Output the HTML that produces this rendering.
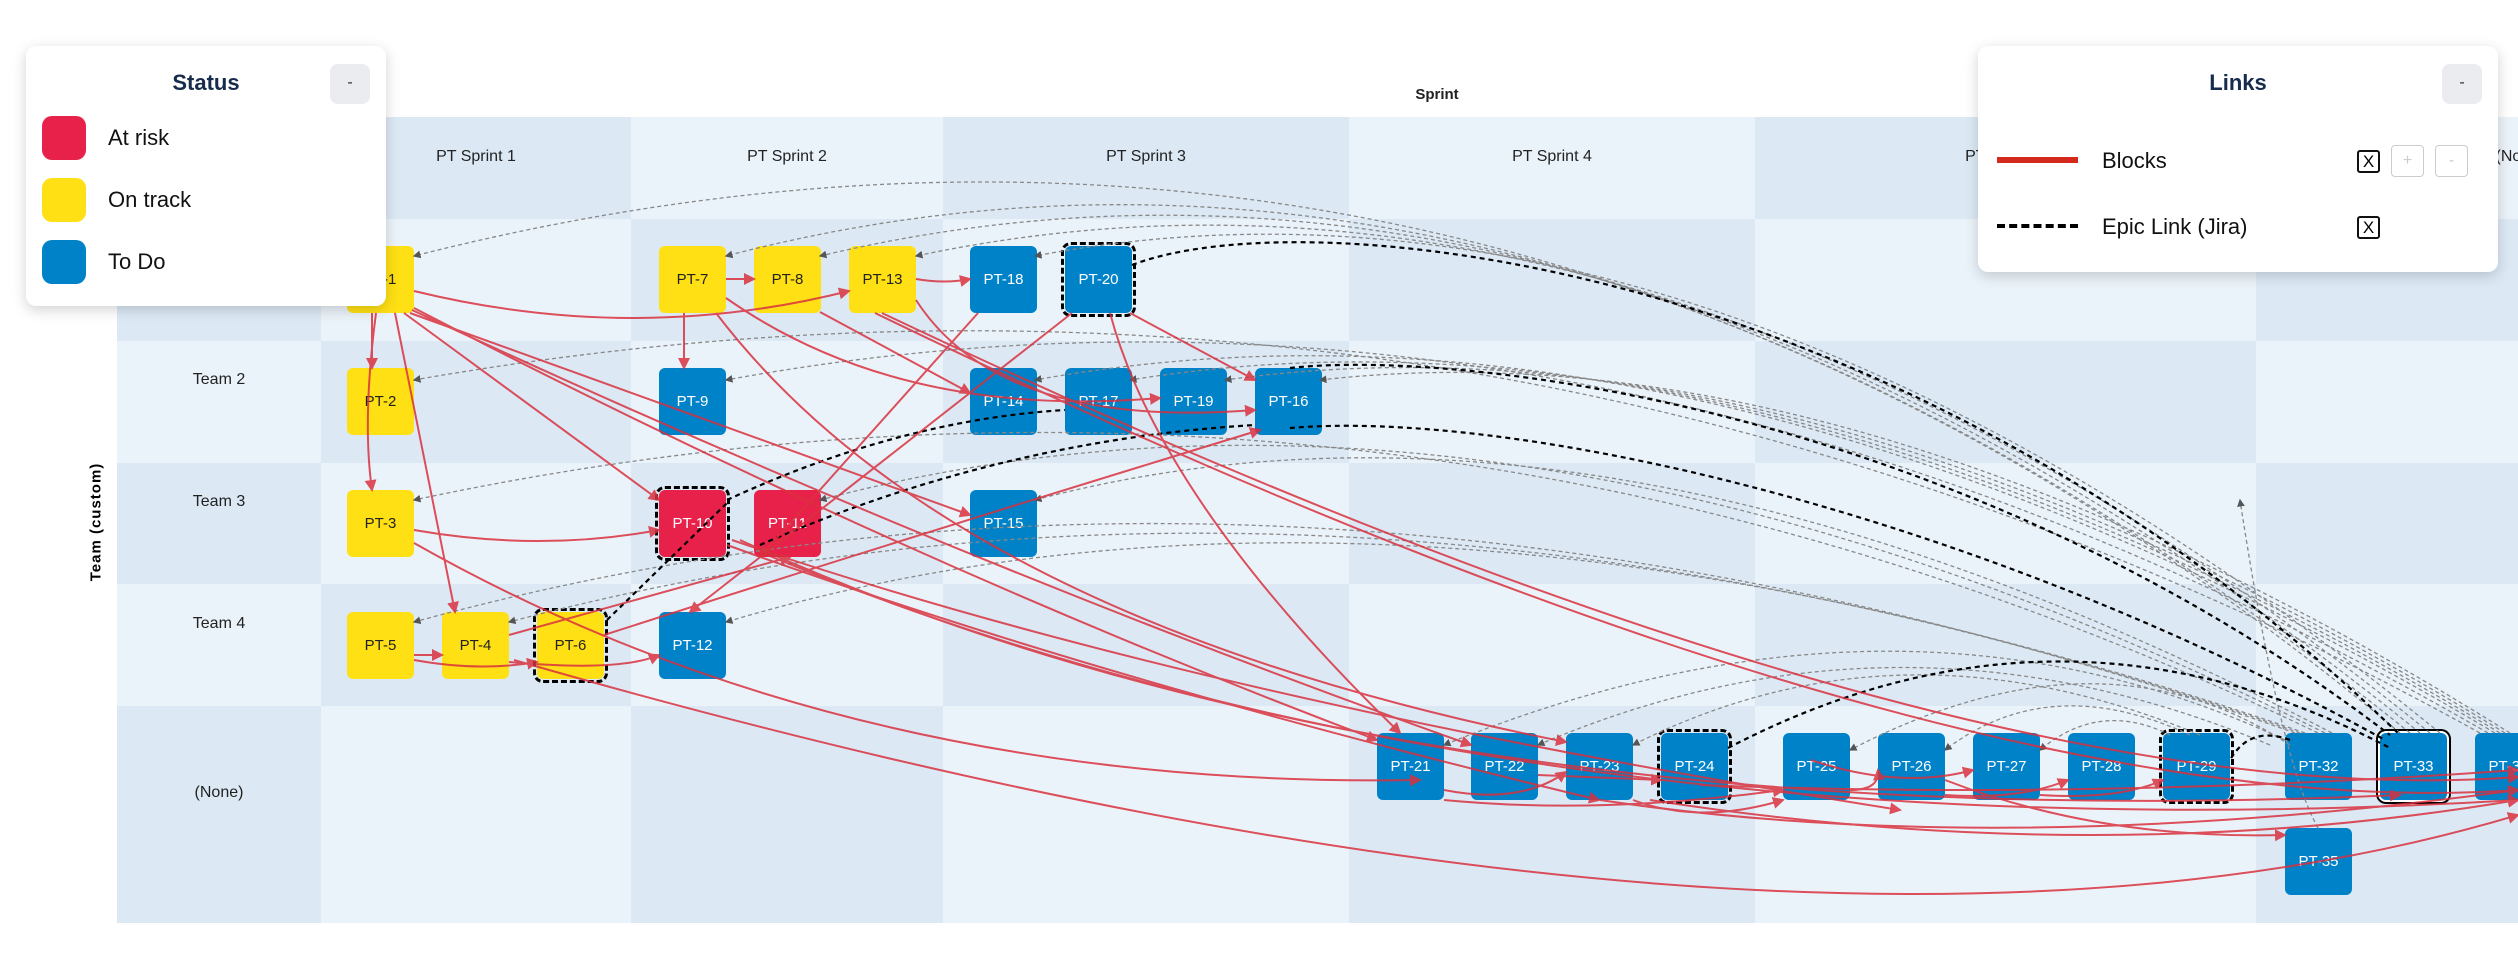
<!DOCTYPE html>
<html><head><meta charset="utf-8"><style>
body{margin:0;width:2518px;height:960px;overflow:hidden;background:#fff;font-family:"Liberation Sans",sans-serif;position:relative}
.c{position:absolute}
.d{background:#dce9f5}.l{background:#ebf3fa}
.hl{position:absolute;font-size:16px;color:#222;text-align:center;transform:translateX(-50%);white-space:nowrap}
.n{position:absolute;width:67px;height:67px;border-radius:6px;display:flex;align-items:center;justify-content:center;font-size:15px;color:#fff}
.y{background:#ffe014;color:#222}.b{background:#0082c8}.r{background:#e8214a}
.dash{outline:3px dashed #000;outline-offset:1px}
.leg{position:absolute;background:#fff;border-radius:10px;box-shadow:0 4px 14px rgba(0,0,0,.18)}
.btn{position:absolute;background:#ebecf0;border-radius:8px;text-align:center;font-size:16px;color:#333}
.sw{position:absolute;left:16px;width:44px;height:44px;border-radius:10px}
.lt{position:absolute;font-size:22px;color:#111}
.cb{position:absolute;width:19px;height:19px;border:2px solid #111;border-radius:3px;font-size:17px;line-height:19px;text-align:center}
</style></head><body>
<!-- grid -->
<div class="c l" style="left:117px;top:117px;width:204px;height:102px"></div>
<div class="c d" style="left:321px;top:117px;width:310px;height:102px"></div>
<div class="c l" style="left:631px;top:117px;width:312px;height:102px"></div>
<div class="c d" style="left:943px;top:117px;width:406px;height:102px"></div>
<div class="c l" style="left:1349px;top:117px;width:406px;height:102px"></div>
<div class="c d" style="left:1755px;top:117px;width:501px;height:102px"></div>
<div class="c l" style="left:2256px;top:117px;width:262px;height:102px"></div>

<div class="c d" style="left:117px;top:219px;width:204px;height:122px"></div>
<div class="c l" style="left:321px;top:219px;width:310px;height:122px"></div>
<div class="c d" style="left:631px;top:219px;width:312px;height:122px"></div>
<div class="c l" style="left:943px;top:219px;width:406px;height:122px"></div>
<div class="c d" style="left:1349px;top:219px;width:406px;height:122px"></div>
<div class="c l" style="left:1755px;top:219px;width:501px;height:122px"></div>
<div class="c d" style="left:2256px;top:219px;width:262px;height:122px"></div>

<div class="c l" style="left:117px;top:341px;width:204px;height:122px"></div>
<div class="c d" style="left:321px;top:341px;width:310px;height:122px"></div>
<div class="c l" style="left:631px;top:341px;width:312px;height:122px"></div>
<div class="c d" style="left:943px;top:341px;width:406px;height:122px"></div>
<div class="c l" style="left:1349px;top:341px;width:406px;height:122px"></div>
<div class="c d" style="left:1755px;top:341px;width:501px;height:122px"></div>
<div class="c l" style="left:2256px;top:341px;width:262px;height:122px"></div>

<div class="c d" style="left:117px;top:463px;width:204px;height:121px"></div>
<div class="c l" style="left:321px;top:463px;width:310px;height:121px"></div>
<div class="c d" style="left:631px;top:463px;width:312px;height:121px"></div>
<div class="c l" style="left:943px;top:463px;width:406px;height:121px"></div>
<div class="c d" style="left:1349px;top:463px;width:406px;height:121px"></div>
<div class="c l" style="left:1755px;top:463px;width:501px;height:121px"></div>
<div class="c d" style="left:2256px;top:463px;width:262px;height:121px"></div>

<div class="c l" style="left:117px;top:584px;width:204px;height:122px"></div>
<div class="c d" style="left:321px;top:584px;width:310px;height:122px"></div>
<div class="c l" style="left:631px;top:584px;width:312px;height:122px"></div>
<div class="c d" style="left:943px;top:584px;width:406px;height:122px"></div>
<div class="c l" style="left:1349px;top:584px;width:406px;height:122px"></div>
<div class="c d" style="left:1755px;top:584px;width:501px;height:122px"></div>
<div class="c l" style="left:2256px;top:584px;width:262px;height:122px"></div>

<div class="c d" style="left:117px;top:706px;width:204px;height:217px"></div>
<div class="c l" style="left:321px;top:706px;width:310px;height:217px"></div>
<div class="c d" style="left:631px;top:706px;width:312px;height:217px"></div>
<div class="c l" style="left:943px;top:706px;width:406px;height:217px"></div>
<div class="c d" style="left:1349px;top:706px;width:406px;height:217px"></div>
<div class="c l" style="left:1755px;top:706px;width:501px;height:217px"></div>
<div class="c d" style="left:2256px;top:706px;width:262px;height:217px"></div>

<div class="hl" style="left:1437px;top:86px;font-size:15px;font-weight:bold">Sprint</div>
<div class="hl" style="left:476px;top:148px">PT Sprint 1</div>
<div class="hl" style="left:787px;top:148px">PT Sprint 2</div>
<div class="hl" style="left:1146px;top:148px">PT Sprint 3</div>
<div class="hl" style="left:1552px;top:148px">PT Sprint 4</div>
<div class="hl" style="left:2005px;top:148px">PT Sprint 5</div>
<div class="hl" style="left:2520px;top:148px">(None)</div>
<div class="hl" style="left:219px;top:250px">Team 1</div>
<div class="hl" style="left:219px;top:371px">Team 2</div>
<div class="hl" style="left:219px;top:493px">Team 3</div>
<div class="hl" style="left:219px;top:615px">Team 4</div>
<div class="hl" style="left:219px;top:784px">(None)</div>
<div style="position:absolute;left:96px;top:522px;transform:translate(-50%,-50%) rotate(-90deg);font-size:15px;font-weight:bold;white-space:nowrap;letter-spacing:1px">Team (custom)</div>

<!-- nodes -->
<div class="n y" style="left:347px;top:246px">PT-1</div>
<div class="n y" style="left:659px;top:246px">PT-7</div>
<div class="n y" style="left:754px;top:246px">PT-8</div>
<div class="n y" style="left:849px;top:246px">PT-13</div>
<div class="n b" style="left:970px;top:246px">PT-18</div>
<div class="n b dash" style="left:1065px;top:246px">PT-20</div>
<div class="n y" style="left:347px;top:368px">PT-2</div>
<div class="n b" style="left:659px;top:368px">PT-9</div>
<div class="n b" style="left:970px;top:368px">PT-14</div>
<div class="n b" style="left:1065px;top:368px">PT-17</div>
<div class="n b" style="left:1160px;top:368px">PT-19</div>
<div class="n b" style="left:1255px;top:368px">PT-16</div>
<div class="n y" style="left:347px;top:490px">PT-3</div>
<div class="n r dash" style="left:659px;top:490px">PT-10</div>
<div class="n r" style="left:754px;top:490px">PT-11</div>
<div class="n b" style="left:970px;top:490px">PT-15</div>
<div class="n y" style="left:347px;top:612px">PT-5</div>
<div class="n y" style="left:442px;top:612px">PT-4</div>
<div class="n y dash" style="left:537px;top:612px">PT-6</div>
<div class="n b" style="left:659px;top:612px">PT-12</div>
<div class="n b" style="left:1377px;top:733px">PT-21</div>
<div class="n b" style="left:1471px;top:733px">PT-22</div>
<div class="n b" style="left:1566px;top:733px">PT-23</div>
<div class="n b dash" style="left:1661px;top:733px">PT-24</div>
<div class="n b" style="left:1783px;top:733px">PT-25</div>
<div class="n b" style="left:1878px;top:733px">PT-26</div>
<div class="n b" style="left:1973px;top:733px">PT-27</div>
<div class="n b" style="left:2068px;top:733px">PT-28</div>
<div class="n b dash" style="left:2163px;top:733px">PT-29</div>
<div class="n b" style="left:2285px;top:733px">PT-32</div>
<div class="n b" style="left:2380px;top:733px;box-shadow:0 0 0 2px #fff,0 0 0 4px #000">PT-33</div>
<div class="n b" style="left:2475px;top:733px">PT-34</div>
<div class="n b" style="left:2285px;top:828px">PT-35</div>

<svg width="2518" height="960" style="position:absolute;left:0;top:0">
<defs><marker id="ar" markerWidth="6" markerHeight="6" refX="5" refY="3" orient="auto"><path d="M0,0L6,3L0,6z" fill="#d9323f"/></marker>
<marker id="ag" markerWidth="6" markerHeight="6" refX="5" refY="3" orient="auto"><path d="M0,0L6,3L0,6z" fill="#555"/></marker></defs>
<g fill="none" stroke="#888" stroke-width="1.3" stroke-dasharray="4 3" marker-end="url(#ag)">
<path d="M2400,733 Q1500,-20 414,256"/>
<path d="M2410,733 Q1550,40 726,256"/>
<path d="M2420,733 Q1600,70 820,256"/>
<path d="M2430,733 Q1650,100 916,256"/>
<path d="M2440,733 Q1700,130 1035,256"/>
<path d="M2480,733 Q1500,190 414,380"/>
<path d="M2488,733 Q1600,220 726,380"/>
<path d="M2495,733 Q1700,260 1035,380"/>
<path d="M2500,733 Q1750,280 1130,380"/>
<path d="M2505,733 Q1800,300 1225,380"/>
<path d="M2510,733 Q1850,320 1320,380"/>
<path d="M2318,733 Q1400,290 414,500"/>
<path d="M2325,733 Q1500,320 820,500"/>
<path d="M2332,733 Q1600,350 1035,500"/>
<path d="M2295,733 Q1300,380 414,622"/>
<path d="M2300,733 Q1350,400 509,622"/>
<path d="M2305,733 Q1400,420 726,622"/>
<path d="M2285,740 Q1900,560 1444,745"/>
<path d="M2270,745 Q1900,590 1538,745"/>
<path d="M2200,735 Q1900,610 1633,745"/>
<path d="M2290,745 Q2100,620 1850,750"/>
<path d="M2190,735 Q2050,670 1945,750"/>
<path d="M2170,735 Q2100,700 2040,750"/>
<path d="M2318,828 Q2280,760 2240,500"/>
</g>
<g fill="none" stroke="#000" stroke-width="2.2" stroke-dasharray="5 4">
<path d="M1132,265 C1300,200 1900,250 2400,735"/>
<path d="M1290,368 C1450,350 1950,400 2390,735"/>
<path d="M1290,428 C1500,410 1950,500 2385,740"/>
<path d="M607,620 L727,503"/>
<path d="M727,500 Q900,420 1065,410"/>
<path d="M760,545 Q1000,440 1255,425"/>
<path d="M1728,748 Q2060,575 2390,748"/>
<path d="M2290,740 Q2250,725 2230,760"/>
</g>
<g fill="none" stroke="#d9323f" stroke-width="2" opacity=".85" marker-end="url(#ar)">
<path d="M414,291 Q635,345 849,291"/>
<path d="M372,313 L372,368"/>
<path d="M376,313 Q362,420 372,490"/>
<path d="M395,313 L455,612"/>
<path d="M404,313 L659,500"/>
<path d="M410,313 L970,515"/>
<path d="M414,308 Q900,560 1377,740"/>
<path d="M412,310 Q950,560 1471,745"/>
<path d="M726,279 L754,279"/>
<path d="M916,279 Q945,284 970,279"/>
<path d="M684,313 L684,368"/>
<path d="M726,298 Q900,420 1160,398"/>
<path d="M820,312 L970,393"/>
<path d="M916,300 Q1000,430 1255,410"/>
<path d="M1130,313 L1255,380"/>
<path d="M978,313 L760,557"/>
<path d="M1072,313 L690,612"/>
<path d="M1110,313 Q1160,500 1400,733"/>
<path d="M716,313 Q950,620 1566,742"/>
<path d="M414,530 Q540,552 659,530"/>
<path d="M414,543 Q850,790 1420,780"/>
<path d="M414,655 L442,655"/>
<path d="M414,660 Q480,672 537,662"/>
<path d="M509,662 Q620,672 659,655"/>
<path d="M509,635 L790,557"/>
<path d="M604,635 Q900,540 1260,430"/>
<path d="M514,660 Q1800,1030 2518,815"/>
<path d="M727,545 Q1100,680 1599,800"/>
<path d="M732,540 Q1200,700 1900,810"/>
<path d="M740,540 Q1400,840 2400,795"/>
<path d="M760,552 Q1500,860 2518,800"/>
<path d="M882,313 Q1950,820 2518,777"/>
<path d="M875,313 Q1940,830 2518,790"/>
<path d="M1444,790 Q1520,805 1566,772"/>
<path d="M1444,800 Q1600,815 1783,790"/>
<path d="M1538,775 L1661,780"/>
<path d="M1633,800 Q1700,825 1783,800"/>
<path d="M1850,790 Q1880,790 1878,770"/>
<path d="M1811,760 Q1900,790 1973,770"/>
<path d="M1945,795 Q2020,800 2068,780"/>
<path d="M2040,795 Q2120,800 2163,780"/>
<path d="M1945,780 Q2100,840 2285,835"/>
<path d="M1600,800 Q2000,860 2518,790"/>
<path d="M1650,800 Q2100,870 2518,800"/>
<path d="M1700,785 Q2100,800 2518,770"/>
</g>
</svg>

<!-- Status legend -->
<div class="leg" style="left:26px;top:46px;width:360px;height:260px">
<div style="position:absolute;left:0;width:360px;top:24px;text-align:center;font-size:22px;font-weight:bold;color:#172b4d">Status</div>
<div class="btn" style="left:304px;top:18px;width:40px;height:40px;line-height:38px">-</div>
<div class="sw" style="top:70px;background:#e8214a"></div><div class="lt" style="left:82px;top:79px">At risk</div>
<div class="sw" style="top:132px;background:#ffe014"></div><div class="lt" style="left:82px;top:141px">On track</div>
<div class="sw" style="top:194px;background:#0082c8"></div><div class="lt" style="left:82px;top:203px">To Do</div>
</div>
<!-- Links legend -->
<div class="leg" style="left:1978px;top:46px;width:520px;height:226px">
<div style="position:absolute;left:0;width:520px;top:24px;text-align:center;font-size:22px;font-weight:bold;color:#172b4d">Links</div>
<div class="btn" style="left:464px;top:18px;width:40px;height:40px;line-height:38px">-</div>
<div style="position:absolute;left:19px;top:111px;width:81px;height:6px;background:#d42a1e"></div>
<div class="lt" style="left:124px;top:102px">Blocks</div>
<div class="cb" style="left:379px;top:104px">X</div>
<div style="position:absolute;left:413px;top:99px;width:31px;height:30px;border:1px solid #ccc;border-radius:4px;color:#ccc;text-align:center;line-height:30px">+</div>
<div style="position:absolute;left:457px;top:99px;width:31px;height:30px;border:1px solid #ccc;border-radius:4px;color:#ccc;text-align:center;line-height:30px">-</div>
<div style="position:absolute;left:19px;top:178px;width:81px;height:0;border-top:4px dashed #000"></div>
<div class="lt" style="left:124px;top:168px">Epic Link (Jira)</div>
<div class="cb" style="left:379px;top:170px">X</div>
</div>
</body></html>
